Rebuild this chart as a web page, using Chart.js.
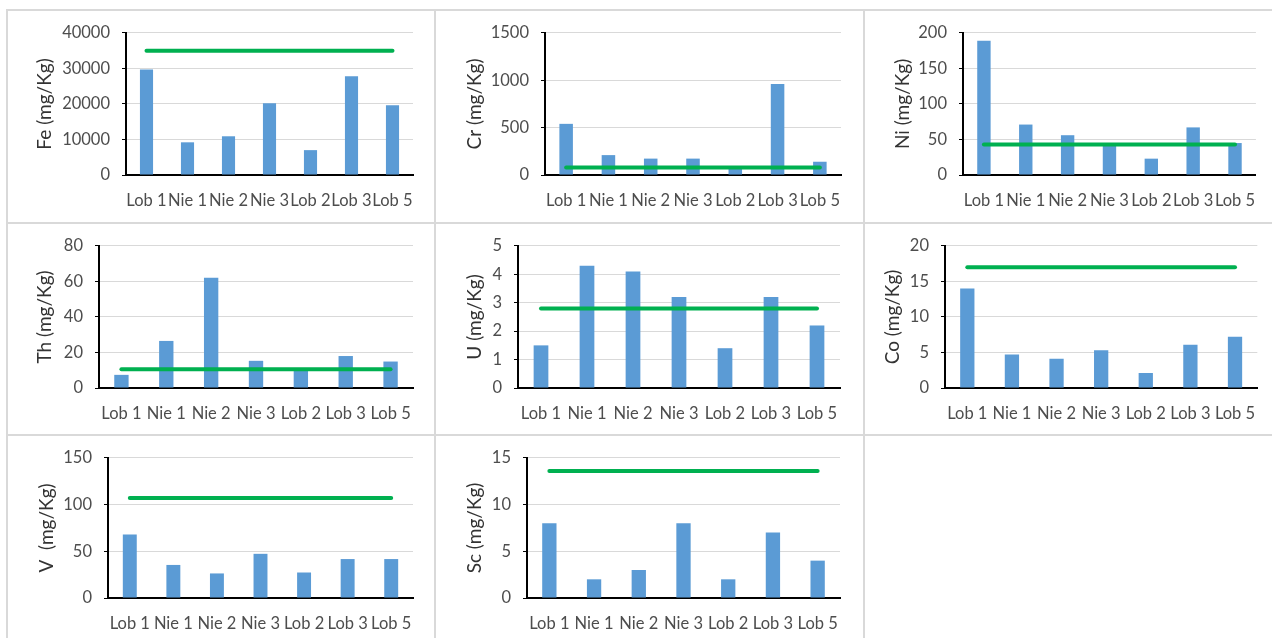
<!DOCTYPE html>
<html>
<head>
<meta charset="utf-8">
<script src="https://cdn.jsdelivr.net/npm/chart.js@4.4.1/dist/chart.umd.min.js"></script>
<style>
  html, body { margin: 0; padding: 0; background: #fff; }
  body { width: 1272px; height: 638px; position: relative; overflow: hidden; }
  .rule { position: absolute; background: #d9d9d9; }
  canvas { position: absolute; }
</style>
</head>
<body>
<script>
// --- sample sites (x categories) ---
const sites = ['Lob 1', 'Nie 1', 'Nie 2', 'Nie 3', 'Lob 2', 'Lob 3', 'Lob 5'];

// --- measured concentrations (mg/Kg) ---
const feValues = [29700, 9200, 10900, 20200, 7000, 27800, 19600];
const crValues = [540, 210, 173, 173, 85, 960, 140];
const niValues = [189, 71, 56, 42, 23, 67, 45];
const thValues = [7.4, 26.5, 62, 15.3, 10, 18, 14.9];
const uValues = [1.5, 4.3, 4.1, 3.2, 1.4, 3.2, 2.2];
const coValues = [14, 4.7, 4.1, 5.3, 2.1, 6.1, 7.2];
const vValues = [68, 35.4, 26.3, 47.3, 27.3, 41.7, 41.7];
const scValues = [8, 2, 3, 8, 2, 7, 4];

// --- reference levels (green lines) ---
const feRef = 35000;
const crRef = 80;
const niRef = 43;
const thRef = 10.5;
const uRef = 2.8;
const coRef = 17;
const vRef = 107;
const scRef = 13.6;

// --- axis titles and y tick ranges ---
const axisTitles = ['Fe (mg/Kg)', 'Cr (mg/Kg)', 'Ni (mg/Kg)', 'Th (mg/Kg)', 'U (mg/Kg)', 'Co (mg/Kg)', 'V  (mg/Kg)', 'Sc (mg/Kg)'];
const yMax = [40000, 1500, 200, 80, 5, 20, 150, 15];
const yStep = [10000, 500, 50, 20, 1, 5, 50, 5];

const seriesList = [feValues, crValues, niValues, thValues, uValues, coValues, vValues, scValues];
const refList = [feRef, crRef, niRef, thRef, uRef, coRef, vRef, scRef];

// --- page layout (cells and plot boxes, page pixels) ---
const colLeft = [8, 436, 865];
const colRight = [434, 863, 1272];
const rowTop = [11, 224, 436];
const rowBottom = [222, 434, 638];
const plotBoxes = [
  { l: 126, t: 32, r: 413, b: 175, tx: 45 },
  { l: 545, t: 32, r: 841, b: 175, tx: 475 },
  { l: 963, t: 31, r: 1260, b: 175, tx: 903 },
  { l: 99, t: 244, r: 413, b: 388, tx: 45 },
  { l: 518, t: 244, r: 840, b: 388, tx: 475 },
  { l: 945, t: 244, r: 1260, b: 388, tx: 893 },
  { l: 108, t: 456, r: 413, b: 598, tx: 47 },
  { l: 527, t: 456, r: 840, b: 598, tx: 475 }
];

const BAR_BLUE = '#5b9bd5';
const REF_GREEN = '#00b050';
const TICK_GREY = '#4d4d4d';
const TITLE_FONT = 19;

Chart.defaults.font.family = 'Lato, "Open Sans", sans-serif';
Chart.defaults.font.size = 16.5;
Chart.defaults.color = TICK_GREY;

// grey table rules between the panels
function addRule(x, y, w, h) {
  const d = document.createElement('div');
  d.className = 'rule';
  Object.assign(d.style, { left: x + 'px', top: y + 'px', width: w + 'px', height: h + 'px' });
  document.body.appendChild(d);
}
addRule(6, 9, 1266, 2);
addRule(6, 222, 1266, 2);
addRule(6, 434, 1266, 2);
addRule(6, 9, 2, 629);
addRule(434, 9, 2, 629);
addRule(863, 9, 2, 629);

function buildPanel(idx) {
  const col = idx % 3;
  const row = Math.floor(idx / 3);
  const cx = colLeft[col], cy = rowTop[row];
  const cw = colRight[col] - cx, ch = rowBottom[row] - cy;
  const box = plotBoxes[idx];

  const canvas = document.createElement('canvas');
  canvas.width = cw;
  canvas.height = ch;
  canvas.style.left = cx + 'px';
  canvas.style.top = cy + 'px';
  canvas.style.width = cw + 'px';
  canvas.style.height = ch + 'px';
  document.body.appendChild(canvas);

  const yWidth = box.l - cx;
  const xHeight = cy + ch - box.b;
  const titleLine = TITLE_FONT * 1.2;

  new Chart(canvas.getContext('2d'), {
    data: {
      labels: sites,
      datasets: [
        {
          type: 'line',
          data: sites.map(() => refList[idx]),
          borderColor: REF_GREEN,
          borderWidth: 4,
          borderCapStyle: 'round',
          pointRadius: 0,
          order: 0
        },
        {
          type: 'bar',
          data: seriesList[idx],
          backgroundColor: BAR_BLUE,
          barPercentage: 0.32,
          categoryPercentage: 1,
          order: 1
        }
      ]
    },
    options: {
      responsive: false,
      animation: false,
      devicePixelRatio: 1,
      layout: { padding: { left: 0, top: box.t - cy, right: cx + cw - box.r, bottom: 0 } },
      plugins: { legend: { display: false }, tooltip: { enabled: false } },
      scales: {
        x: {
          grid: { display: false, drawTicks: false },
          border: { display: true, color: '#000', width: 2 },
          ticks: { autoSkip: false, maxRotation: 0, minRotation: 0, padding: 16, color: TICK_GREY },
          afterFit: (s) => { s.height = xHeight; }
        },
        y: {
          min: 0,
          max: yMax[idx],
          ticks: { stepSize: yStep[idx], padding: 12, color: TICK_GREY, callback: (v) => String(v) },
          grid: { color: '#d9d9d9', lineWidth: 1, tickLength: 4, tickColor: '#000' },
          border: { display: true, color: '#000', width: 2 },
          title: {
            display: true,
            text: axisTitles[idx],
            color: '#333333',
            font: { size: TITLE_FONT },
            padding: { top: box.tx - cx - titleLine / 2, bottom: 0 }
          },
          afterFit: (s) => { s.width = yWidth; }
        }
      }
    }
  });
}

for (let i = 0; i < seriesList.length; i++) buildPanel(i);
</script>
</body>
</html>
